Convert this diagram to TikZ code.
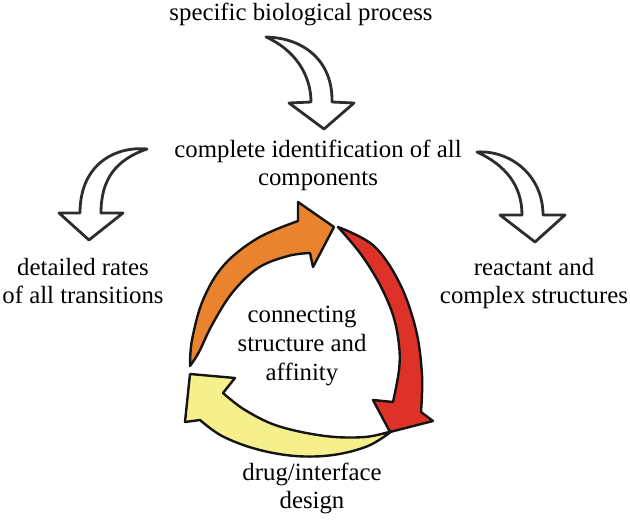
\documentclass[tikz,border=0pt]{standalone}
\usepackage{fontspec}
\setmainfont{Liberation Serif}
\definecolor{orangeC}{RGB}{233,131,45}
\definecolor{redC}{RGB}{222,50,40}
\definecolor{yellowC}{RGB}{245,240,140}
\definecolor{outlineC}{RGB}{45,45,45}
\begin{document}
\begin{tikzpicture}[x=1pt,y=-1pt,
  lbl/.style={font=\fontsize{24.8}{28}\selectfont, inner sep=0pt, anchor=base, text=black},
  hollow/.style={draw=outlineC, line width=2.8pt, fill=white, line join=round},
  cyc/.style={draw=black!92, line width=2.4pt, line join=round}]
\useasboundingbox (0,0) rectangle (630,521);

% hollow arrows
\draw[hollow] (266,37) .. controls (305,38) and (333,62) .. (332,102) -- (354,103) -- (324,129) -- (289,103) -- (311,102) .. controls (311,75) and (295,50) .. (266,37) -- cycle;
\draw[hollow] (147,149) .. controls (118,146) and (80,162) .. (80,213) -- (59,213) -- (89,240) -- (123,213) -- (101,213) .. controls (101,180) and (115,160) .. (147,149) -- cycle;
\draw[hollow] (477,152) .. controls (510,150) and (543,175) .. (543,215) -- (565,215) -- (535,242) -- (500,215) -- (522,215) .. controls (522,185) and (505,165) .. (477,152) -- cycle;

% cycle arrows
\filldraw[cyc, fill=orangeC] plot[smooth, tension=0.6] coordinates {(190,366) (192,340) (203,300) (224,265) (258,238) (298,221)} -- (298,202) -- (334,227) -- (313,267) -- (310,253) -- plot[smooth, tension=0.6] coordinates {(310,253) (288,256) (258,268) (232,293) (212,325) (199,352) (190,366)} -- cycle;
\filldraw[cyc, fill=redC] plot[smooth, tension=0.6] coordinates {(338,227) (374,246) (400,284) (416,330) (422,375) (421,412)} -- (433,421) -- (390,432) -- (373,400) -- (393,402) -- plot[smooth, tension=0.6] coordinates {(393,402) (399,370) (399,345) (393,315) (379,283) (360,253) (338,227)} -- cycle;
\filldraw[cyc, fill=yellowC] plot[smooth, tension=0.6] coordinates {(392,431) (365,437) (325,436) (278,426) (245,410) (223,393)} -- (235,378) -- (190,374) -- (185,422) -- (200,420) -- plot[smooth, tension=0.6] coordinates {(200,420) (222,436) (256,449) (295,456) (333,455) (368,446) (392,431)} -- cycle;

% labels
\node[lbl] (top) at (301,21) {specific biological process};
\node[lbl] (mid1) at (318,158) {complete identification of all};
\node[lbl] (mid2) at (318,186) {components};
\node[lbl] (lft1) at (83,276) {detailed rates};
\node[lbl] (lft2) at (83,304) {of all transitions};
\node[lbl] (rgt1) at (534,276) {reactant and};
\node[lbl] (rgt2) at (534,304) {complex structures};
\node[lbl] (cen1) at (302,323) {connecting};
\node[lbl] (cen2) at (302,352) {structure and};
\node[lbl] (cen3) at (302,381) {affinity};
\node[lbl] (bot1) at (312,481) {drug/interface};
\node[lbl] (bot2) at (312,509) {design};
\end{tikzpicture}
\end{document}
